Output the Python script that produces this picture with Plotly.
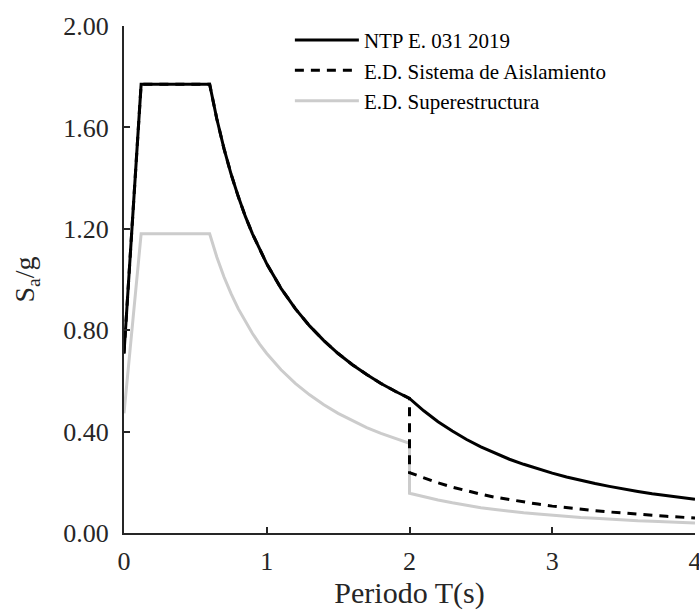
import plotly.graph_objects as go

# ---- Data ----
periodo_ntp = [0.0, 0.12, 0.60, 0.65, 0.70, 0.75, 0.80, 0.85, 0.90, 0.95, 1.0,
               1.1, 1.2, 1.3, 1.4, 1.5, 1.6, 1.7, 1.8, 1.9, 2.0,
               2.1, 2.2, 2.3, 2.4, 2.5, 2.6, 2.7, 2.8, 2.9, 3.0,
               3.1, 3.2, 3.3, 3.4, 3.5, 3.6, 3.7, 3.8, 3.9, 4.0]
sa_ntp = [0.708, 1.770, 1.770, 1.634, 1.517, 1.416, 1.328, 1.249, 1.180, 1.118, 1.062,
          0.965, 0.885, 0.817, 0.759, 0.708, 0.664, 0.625, 0.590, 0.559, 0.531,
          0.482, 0.439, 0.402, 0.369, 0.340, 0.314, 0.291, 0.271, 0.253, 0.236,
          0.221, 0.207, 0.195, 0.184, 0.173, 0.164, 0.155, 0.147, 0.140, 0.133]

periodo_aisl = [0.0, 0.12, 0.60, 0.65, 0.70, 0.75, 0.80, 0.85, 0.90, 0.95, 1.0,
                1.1, 1.2, 1.3, 1.4, 1.5, 1.6, 1.7, 1.8, 1.9, 2.0, 2.0,
                2.1, 2.2, 2.3, 2.4, 2.5, 2.6, 2.7, 2.8, 2.9, 3.0,
                3.1, 3.2, 3.3, 3.4, 3.5, 3.6, 3.7, 3.8, 3.9, 4.0]
sa_aisl = [0.708, 1.770, 1.770, 1.634, 1.517, 1.416, 1.328, 1.249, 1.180, 1.118, 1.062,
           0.965, 0.885, 0.817, 0.759, 0.708, 0.664, 0.625, 0.590, 0.559, 0.531, 0.238,
           0.217, 0.198, 0.181, 0.166, 0.153, 0.141, 0.131, 0.122, 0.114, 0.106,
           0.099, 0.093, 0.088, 0.083, 0.078, 0.074, 0.070, 0.066, 0.062, 0.059]

periodo_sup = [0.0, 0.12, 0.60, 0.65, 0.70, 0.75, 0.80, 0.85, 0.90, 0.95, 1.0,
               1.1, 1.2, 1.3, 1.4, 1.5, 1.6, 1.7, 1.8, 1.9, 2.0, 2.0,
               2.1, 2.2, 2.3, 2.4, 2.5, 2.6, 2.7, 2.8, 2.9, 3.0,
               3.1, 3.2, 3.3, 3.4, 3.5, 3.6, 3.7, 3.8, 3.9, 4.0]
sa_sup = [0.472, 1.180, 1.180, 1.089, 1.011, 0.944, 0.885, 0.833, 0.787, 0.745, 0.708,
          0.644, 0.590, 0.545, 0.506, 0.472, 0.443, 0.416, 0.393, 0.373, 0.354, 0.157,
          0.142, 0.130, 0.119, 0.109, 0.100, 0.093, 0.086, 0.080, 0.075, 0.070,
          0.065, 0.061, 0.058, 0.054, 0.051, 0.048, 0.046, 0.044, 0.041, 0.039]

nombres = ["NTP E. 031 2019", "E.D. Sistema de Aislamiento", "E.D. Superestructura"]
x_ticks = [0, 1, 2, 3, 4]
y_ticks = [0.0, 0.4, 0.8, 1.2, 1.6, 2.0]
y_ticktext = ["0.00", "0.40", "0.80", "1.20", "1.60", "2.00"]

FONT = "Liberation Serif, Times New Roman, serif"
AX = "#262626"

fig = go.Figure()
fig.add_trace(go.Scatter(x=periodo_sup, y=sa_sup, mode="lines", name=nombres[2],
                         line=dict(color="#cccccc", width=3), legendrank=3))
fig.add_trace(go.Scatter(x=periodo_aisl, y=sa_aisl, mode="lines", name=nombres[1],
                         line=dict(color="black", width=3, dash="9px,7px"), legendrank=2))
fig.add_trace(go.Scatter(x=periodo_ntp, y=sa_ntp, mode="lines", name=nombres[0],
                         line=dict(color="black", width=3), legendrank=1))

fig.update_layout(
    width=699, height=614,
    margin=dict(l=124, r=4, t=26, b=81, autoexpand=False),
    plot_bgcolor="white", paper_bgcolor="white",
    font=dict(family=FONT, size=26, color=AX),
    showlegend=True,
    legend=dict(x=0.2905, y=1.012, xanchor="left", yanchor="top",
                bgcolor="rgba(0,0,0,0)", borderwidth=0,
                font=dict(family=FONT, size=21, color="black"),
                itemwidth=64, tracegroupgap=0),
    xaxis=dict(range=[0, 4], tickvals=x_ticks, showgrid=False, zeroline=False,
               showline=True, linecolor=AX, linewidth=2, ticks="inside",
               ticklen=6, tickwidth=2, tickcolor=AX, ticklabelstandoff=4,
               ticklabeloverflow="allow", automargin=False,
               title=dict(text="Periodo T(s)", font=dict(size=30, color=AX), standoff=4)),
    yaxis=dict(range=[0, 2], tickvals=y_ticks, ticktext=y_ticktext, showgrid=False,
               zeroline=False, showline=True, linecolor=AX, linewidth=2,
               ticks="inside", ticklen=6, tickwidth=2, tickcolor=AX,
               ticklabelstandoff=8, automargin=False,
               title=dict(text="S<sub>a</sub>/g", font=dict(size=28, color=AX), standoff=20)),
)

fig.write_html("out.html")
